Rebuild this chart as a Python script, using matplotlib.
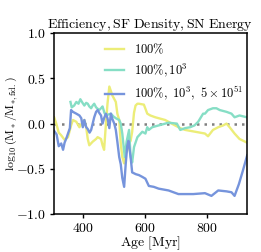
import numpy as np
import matplotlib
matplotlib.use("Agg")
import matplotlib.pyplot as plt

plt.rcParams["font.family"] = "serif"
plt.rcParams["font.serif"] = ["cmr10"]
plt.rcParams["mathtext.fontset"] = "cm"
plt.rcParams["axes.formatter.use_mathtext"] = True

# yellow: 100% efficiency
age_y = [305, 312, 320, 328, 339, 350, 360, 366, 377, 387, 398, 403, 409, 414, 419, 430,
         441, 446, 457, 462, 467, 473, 478, 484, 494, 505, 510, 516, 521, 526, 532, 537,
         542, 548, 553, 558, 564, 569, 575, 580, 596, 607, 617, 633, 665, 697, 714, 730,
         762, 794, 804, 820, 837, 853, 864, 874, 890, 906, 930]
val_y = [0.07, 0.0, -0.1, -0.13, -0.18, -0.15, -0.02, 0.04, 0.02, -0.04, 0.02, 0.04,
         -0.04, -0.17, -0.24, -0.2, -0.17, -0.15, -0.17, -0.24, -0.29, 0.0, 0.22, 0.41,
         0.31, 0.24, 0.11, 0.04, -0.22, -0.37, -0.44, -0.33, -0.3, -0.22, -0.19, -0.09,
         0.12, 0.2, 0.22, 0.22, 0.21, 0.11, 0.09, 0.07, 0.04, -0.02, -0.05, -0.07, -0.09,
         -0.11, -0.14, -0.07, -0.04, -0.02, 0.0, -0.04, -0.11, -0.17, -0.21]

# teal: 100%, 10^3
age_g = [358, 362, 370, 377, 384, 390, 397, 403, 409, 414, 419, 425, 430, 435, 441, 451,
         457, 462, 468, 473, 480, 489, 497, 505, 510, 516, 521, 526, 534, 540, 548, 553,
         558, 564, 575, 591, 601, 607, 612, 623, 644, 676, 703, 714, 730, 746, 760, 772,
         788, 794, 804, 820, 831, 842, 864, 880, 890, 906, 930]
val_g = [0.24, 0.18, 0.2, 0.24, 0.22, 0.27, 0.23, 0.2, 0.23, 0.22, 0.19, 0.17, 0.2, 0.22,
         0.18, 0.15, 0.17, 0.19, 0.12, 0.09, 0.1, 0.11, 0.08, 0.06, 0.05, 0.04, 0.0, -0.11,
         -0.37, -0.2, -0.07, -0.37, -0.43, -0.26, -0.15, -0.09, -0.11, -0.04, -0.07, -0.04,
         -0.02, 0.01, 0.0, -0.07, -0.05, -0.04, -0.02, 0.02, 0.11, 0.11, 0.15, 0.17, 0.17,
         0.15, 0.13, 0.11, 0.07, 0.09, 0.07]

# blue: 100%, 10^3, 5x10^51
age_b = [305, 313, 320, 328, 334, 339, 345, 350, 356, 360, 366, 377, 387, 393, 398, 403,
         409, 414, 420, 425, 430, 435, 441, 446, 451, 457, 462, 467, 473, 478, 484, 489,
         494, 500, 505, 510, 516, 521, 526, 532, 537, 542, 546, 553, 558, 570, 580, 591,
         601, 612, 628, 644, 676, 708, 730, 756, 794, 815, 837, 864, 880, 890, 904, 917, 931]
val_b = [-0.08, -0.12, -0.25, -0.22, -0.29, -0.21, -0.16, -0.11, -0.05, 0.15, 0.13, 0.11,
         0.09, 0.06, -0.04, 0.04, -0.04, -0.06, -0.1, -0.07, 0.0, 0.07, 0.13, 0.15, 0.12,
         0.09, 0.0, 0.06, 0.11, 0.06, -0.05, 0.11, 0.05, 0.0, -0.07, -0.2, -0.37, -0.45,
         -0.6, -0.7, -0.45, -0.25, -0.19, -0.37, -0.54, -0.56, -0.57, -0.59, -0.61, -0.69,
         -0.7, -0.72, -0.74, -0.78, -0.78, -0.78, -0.77, -0.8, -0.74, -0.75, -0.76, -0.8,
         -0.67, -0.52, -0.35]

labels = [r"$100\%$", r"$100\%, 10^3$", r"$100\%,\ 10^3,\ 5\times10^{51}$"]
colors = ["#eced78", "#86dec5", "#7694dc"]

fig = plt.figure(figsize=(2.61, 2.52), dpi=100)
ax = fig.add_axes([0.205, 0.151, 0.741, 0.717])

ax.axhline(0, color="grey", linestyle=(0, (1, 2)), linewidth=1.8, zorder=1)
ax.plot(age_y, val_y, color=colors[0], linewidth=1.7, label=labels[0])
ax.plot(age_g, val_g, color=colors[1], linewidth=1.7, label=labels[1])
ax.plot(age_b, val_b, color=colors[2], linewidth=1.7, label=labels[2])

ax.set_xlim(303, 930)
ax.set_ylim(-1.0, 1.0)
ax.set_xticks([400, 600, 800])
ax.set_yticks([-1.0, -0.5, 0.0, 0.5, 1.0])
ax.set_yticklabels(["$-1.0$", "$-0.5$", "$0.0$", "$0.5$", "$1.0$"])
ax.set_xticklabels(["$400$", "$600$", "$800$"])
ax.tick_params(labelsize=10, width=1, length=3, pad=2.5)
for s in ax.spines.values():
    s.set_linewidth(1.1)

ax.set_xlabel(r"$\mathrm{Age\ [Myr]}$", fontsize=10, labelpad=0)
ax.set_ylabel(r"$\log_{10}(\mathrm{M}_*/\mathrm{M}_{*,\mathrm{fid.}})$", fontsize=8.5)
ax.yaxis.set_label_coords(-0.175, 0.5)
ax.set_title(r"$\mathrm{Efficiency, SF\ Density, SN\ Energy}$", fontsize=10, pad=4)

ax.legend(loc="upper left", bbox_to_anchor=(0.22, 1.0), frameon=False, fontsize=9,
          handlelength=1.5, handletextpad=0.8, labelspacing=0.45, borderaxespad=0.3)

fig.savefig("out.png", dpi=100)
